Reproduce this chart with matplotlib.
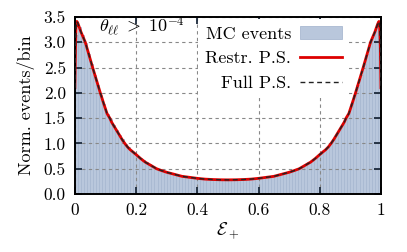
import numpy as np
import matplotlib
matplotlib.use("Agg")
import matplotlib.pyplot as plt

plt.rcParams["font.family"] = "serif"
plt.rcParams["font.serif"] = ["cmr10", "DejaVu Serif"]
plt.rcParams["mathtext.fontset"] = "cm"
plt.rcParams["axes.formatter.use_mathtext"] = True

# histogram heights, 100 bins on [0, 1]
bin_edges = np.linspace(0, 1, 101)
hist_left = [3.15, 3.30, 3.14, 2.98, 2.77, 2.56, 2.36, 2.16, 1.96, 1.77,
             1.59, 1.48, 1.37, 1.27, 1.17, 1.08, 0.99, 0.92, 0.86, 0.80,
             0.76, 0.72, 0.67, 0.63, 0.59, 0.55, 0.51, 0.48, 0.46, 0.44,
             0.43, 0.41, 0.39, 0.375, 0.36, 0.345, 0.335, 0.325, 0.315, 0.31,
             0.30, 0.295, 0.29, 0.287, 0.285, 0.283, 0.281, 0.28, 0.28, 0.28]
hist_right = [0.28, 0.28, 0.28, 0.281, 0.283, 0.285, 0.287, 0.29, 0.295, 0.30,
              0.31, 0.315, 0.325, 0.335, 0.345, 0.36, 0.375, 0.39, 0.41, 0.43,
              0.44, 0.46, 0.48, 0.51, 0.55, 0.59, 0.63, 0.67, 0.72, 0.76,
              0.80, 0.86, 0.92, 0.99, 1.08, 1.17, 1.27, 1.37, 1.48, 1.59,
              1.77, 1.96, 2.16, 2.36, 2.56, 2.77, 2.98, 3.14, 3.30, 3.15]
hist_vals = hist_left + hist_right

# analytic curves (restricted and full phase space overlap)
curve_x = [0.0, 0.002, 0.004, 0.0065, 0.01, 0.013, 0.02, 0.027, 0.034, 0.046,
           0.058, 0.07, 0.083, 0.094, 0.105, 0.114, 0.12, 0.128, 0.136, 0.145,
           0.154, 0.163, 0.172, 0.18, 0.19, 0.2, 0.215, 0.23, 0.25, 0.267,
           0.285, 0.3, 0.325, 0.35, 0.375, 0.4, 0.425, 0.45, 0.475, 0.5,
           0.525, 0.55, 0.575, 0.6, 0.625, 0.65, 0.675, 0.7, 0.715, 0.733,
           0.75, 0.77, 0.785, 0.8, 0.81, 0.82, 0.828, 0.837, 0.846, 0.855,
           0.864, 0.872, 0.88, 0.886, 0.895, 0.906, 0.917, 0.93, 0.942, 0.954,
           0.966, 0.973, 0.98, 0.987, 0.99, 0.9935, 0.996, 0.998, 1.0]
restr_y = [2.1, 2.9, 3.3, 3.41, 3.37, 3.32, 3.2, 3.1, 3.0, 2.75,
           2.5, 2.26, 2.0, 1.79, 1.59, 1.5, 1.42, 1.34, 1.26, 1.17,
           1.08, 1.0, 0.93, 0.88, 0.83, 0.78, 0.7, 0.63, 0.56, 0.5,
           0.46, 0.43, 0.39, 0.35, 0.33, 0.31, 0.295, 0.287, 0.282, 0.28,
           0.282, 0.287, 0.295, 0.31, 0.33, 0.35, 0.39, 0.43, 0.46, 0.5,
           0.56, 0.63, 0.7, 0.78, 0.83, 0.88, 0.93, 1.0, 1.08, 1.17,
           1.26, 1.34, 1.42, 1.5, 1.59, 1.79, 2.0, 2.26, 2.5, 2.75,
           3.0, 3.1, 3.2, 3.32, 3.37, 3.41, 3.3, 2.9, 2.1]
full_y = restr_y

x_ticks = [0, 0.2, 0.4, 0.6, 0.8, 1]
x_labels = ["0", "0.2", "0.4", "0.6", "0.8", "1"]
y_ticks = [0, 0.5, 1.0, 1.5, 2.0, 2.5, 3.0, 3.5]
y_labels = ["0.0", "0.5", "1.0", "1.5", "2.0", "2.5", "3.0", "3.5"]

fig = plt.figure(figsize=(4.07, 2.52), dpi=100)
ax = fig.add_axes([0.184, 0.230, 0.752, 0.703])

bars = ax.bar(bin_edges[:-1], hist_vals, width=np.diff(bin_edges), align="edge",
              color="#b9c7dc", edgecolor="#a9b9d1", linewidth=0.6, zorder=0.3,
              label="MC events")
l_restr, = ax.plot(curve_x, restr_y, color="#dd0000", lw=2.0, zorder=2,
                   label="Restr. P.S.")
l_full, = ax.plot(curve_x, full_y, color="#222222", lw=1.0, ls=(0, (3.5, 2.5)),
                  zorder=3, label="Full P.S.")

ax.set_xlim(0, 1)
ax.set_ylim(0, 3.5)
ax.set_xticks(x_ticks)
ax.set_xticklabels(x_labels)
ax.set_yticks(y_ticks)
ax.set_yticklabels(y_labels)
ax.tick_params(direction="in", length=5, width=1.3, color="#1c2a3c",
               top=True, right=True, labelsize=12.5, pad=6.5)
ax.set_axisbelow(True)
ax.grid(True, color="#888888", ls=(0, (3, 3)), lw=0.8)
for s in ax.spines.values():
    s.set_linewidth(1.4)

ax.set_xlabel(r"$\mathcal{E}_+$", fontsize=13, labelpad=2)
ax.set_ylabel("Norm. events/bin", fontsize=13, labelpad=6)
ax.text(0.08, 0.943, r"$\theta_{\ell\ell}\;>\;10^{-4}$", transform=ax.transAxes,
        fontsize=13, va="center", ha="left")

leg = ax.legend([bars, l_restr, l_full], ["MC events", "Restr. P.S.", "Full P.S."],
                loc="upper right", bbox_to_anchor=(0.895, 0.99), markerfirst=False,
                frameon=True, fontsize=13, handlelength=2.3, borderaxespad=0,
                labelspacing=0.5, handletextpad=0.5)
leg.get_frame().set_edgecolor("none")
leg.get_frame().set_facecolor("white")
leg.get_frame().set_alpha(1)
for t in leg.get_texts():
    t.set_ha("right")

fig.savefig("out.png", dpi=100)
